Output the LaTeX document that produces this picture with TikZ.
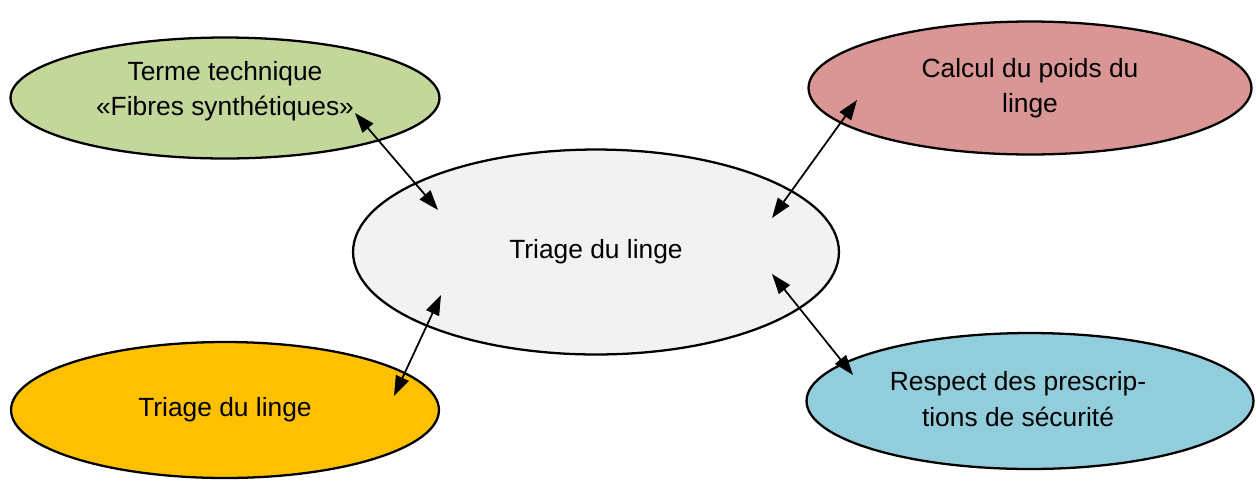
\documentclass[tikz,border=0pt]{standalone}
\usepackage{fontspec}
\setmainfont{Liberation Sans}
\usetikzlibrary{shapes.geometric,arrows.meta}

\definecolor{greenfill}{RGB}{196,215,155}
\definecolor{redfill}{RGB}{218,150,148}
\definecolor{grayfill}{RGB}{242,242,242}
\definecolor{yellowfill}{RGB}{255,192,0}
\definecolor{bluefill}{RGB}{146,205,220}

\tikzset{
  bubble/.style={ellipse, draw, line width=1.3pt, align=center, inner sep=0pt,
    font=\fontsize{15}{20}\selectfont},
  words/.style={align=center, inner sep=0pt, font=\fontsize{15}{20}\selectfont},
  link/.style={{Triangle[length=0.4cm,width=0.28cm]}-{Triangle[length=0.4cm,width=0.28cm]},
    line width=1pt}
}

\begin{document}
\begin{tikzpicture}[x=0.02cm,y=-0.02cm]
    \useasboundingbox (0,0) rectangle (1256,481);
    % centre
    \node [bubble, fill=grayfill, minimum width=9.72cm, minimum height=4.1cm] (centre) at (596,252) {Triage du linge};
    % top left
    \node [bubble, fill=greenfill, minimum width=8.58cm, minimum height=2.42cm] (terme) at (225,98) {};
    \node [words] (terme-text) at (225,91) {Terme technique\\«Fibres synthétiques»};
    % top right
    \node [bubble, fill=redfill, minimum width=8.86cm, minimum height=2.66cm] (calcul) at (1030,88) {Calcul du poids du\\linge};
    % bottom left
    \node [bubble, fill=yellowfill, minimum width=8.56cm, minimum height=2.72cm] (triage) at (225,410) {Triage du linge};
    % bottom right
    \node [bubble, fill=bluefill, minimum width=8.94cm, minimum height=2.72cm] (respect) at (1030,401) {};
    \node [words] (respect-text) at (1018,399) {Respect des prescrip-\\tions de sécurité};
    % arrow ends
    \coordinate (terme-end) at (355,113);
    \coordinate (centre-tl) at (438,210);
    \coordinate (calcul-end) at (857,100);
    \coordinate (centre-tr) at (772,218);
    \coordinate (triage-end) at (394,396);
    \coordinate (centre-bl) at (441,295);
    \coordinate (respect-end) at (853,375);
    \coordinate (centre-br) at (772,274);
    % arrows
    \draw [link] (terme-end) -- (centre-tl);
    \draw [link] (calcul-end) -- (centre-tr);
    \draw [link] (centre-bl) -- (triage-end);
    \draw [link] (centre-br) -- (respect-end);
\end{tikzpicture}
\end{document}
